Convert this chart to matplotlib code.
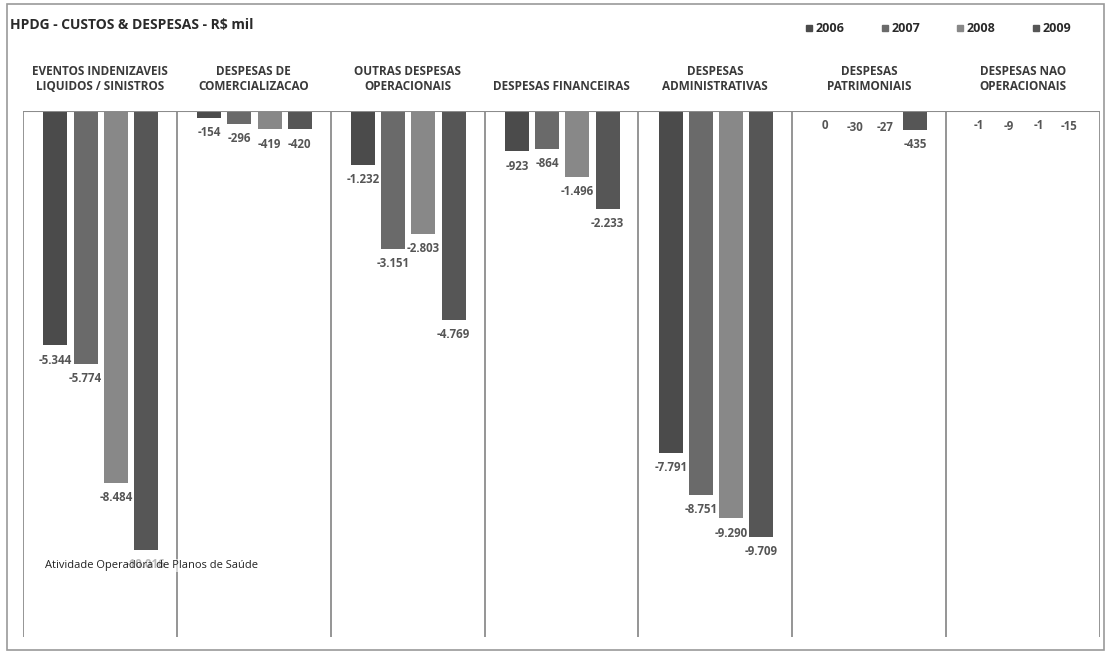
import numpy as np
import matplotlib.pyplot as plt
from matplotlib.patches import Rectangle

plt.rcParams['font.family'] = ['Open Sans', 'DejaVu Sans']

# dados (R$ mil)
categorias = ['EVENTOS INDENIZAVEIS\nLIQUIDOS / SINISTROS',
              'DESPESAS DE\nCOMERCIALIZACAO',
              'OUTRAS DESPESAS\nOPERACIONAIS',
              'DESPESAS FINANCEIRAS',
              'DESPESAS\nADMINISTRATIVAS',
              'DESPESAS\nPATRIMONIAIS',
              'DESPESAS NAO\nOPERACIONAIS']
anos = ['2006', '2007', '2008', '2009']
v2006 = [-5344, -154, -1232, -923, -7791, 0, -1]
v2007 = [-5774, -296, -3151, -864, -8751, -30, -9]
v2008 = [-8484, -419, -2803, -1496, -9290, -27, -1]
v2009 = [-10016, -420, -4769, -2233, -9709, -435, -15]
cores = ['#4b4b4b', '#6a6a6a', '#888888', '#565656']

series = [v2006, v2007, v2008, v2009]

fig = plt.figure(figsize=(11.07, 6.56), dpi=100)
fig.patch.set_facecolor('white')

# moldura externa
fig.patches.append(Rectangle((7 / 1107, 1 - 650 / 656), 1097 / 1107, 646 / 656,
                             transform=fig.transFigure, fill=False,
                             edgecolor='#9a9a9a', linewidth=1.2))

ax = fig.add_axes([23 / 1107, 1 - 637 / 656, 1077 / 1107, 526 / 656])
x = np.arange(len(categorias))
passo = 0.196
larg = 0.156

for k, (vals, cor) in enumerate(zip(series, cores)):
    pos = x + (k - 1.5) * passo + 0.005
    ax.bar(pos, vals, width=larg, color=cor, zorder=3)
    for p, v in zip(pos, vals):
        txt = '{:,}'.format(v).replace(',', '.')
        ax.annotate(txt, (p, v), xytext=(0, -6), textcoords='offset points',
                    ha='center', va='top', fontsize=8.3, fontweight='bold',
                    color='#555555', zorder=2)

ax.set_xlim(-0.5, len(categorias) - 0.5)
ax.set_ylim(-12000, 0)
for b in np.arange(-0.5, len(categorias), 1.0):
    ax.axvline(b, color='#8c8c8c', linewidth=1.3, zorder=1)
ax.axhline(0, color='#8c8c8c', linewidth=1.5, zorder=4)
for s in ax.spines.values():
    s.set_visible(False)
ax.set_xticks([])
ax.set_yticks([])
ax.set_facecolor('none')

# rótulos das categorias acima do gráfico
for i, c in enumerate(categorias):
    ax.annotate(c, (i, 0), xytext=(0, 13), textcoords='offset points',
                ha='center', va='bottom', fontsize=8.5, fontweight='bold',
                color='#3a3a3a', linespacing=1.15)

# nota sobre o primeiro grupo (fica por cima do rótulo da última barra)
ax.text(-0.36, -10370, 'Atividade Operadora de Planos de Saúde', fontsize=8,
        color='#222222', ha='left', va='center', zorder=5,
        bbox=dict(facecolor='white', edgecolor='none', alpha=0.6, pad=0.5))

# título
fig.text(10 / 1107, 1 - 25 / 656, 'HPDG - CUSTOS & DESPESAS - R$ mil',
         fontsize=10, fontweight='bold', color='#2a2a2a', ha='left', va='center')

# legenda
leg_x = [806, 882, 957, 1033]
for lx, ano, cor in zip(leg_x, anos, cores):
    fig.patches.append(Rectangle((lx / 1107, 1 - 31 / 656), 6 / 1107, 6 / 656,
                                 transform=fig.transFigure, color=cor))
    fig.text((lx + 10) / 1107, 1 - 28 / 656, ano, fontsize=9, fontweight='bold',
             color='#2a2a2a', ha='left', va='center')

fig.savefig('out.png', dpi=100)
